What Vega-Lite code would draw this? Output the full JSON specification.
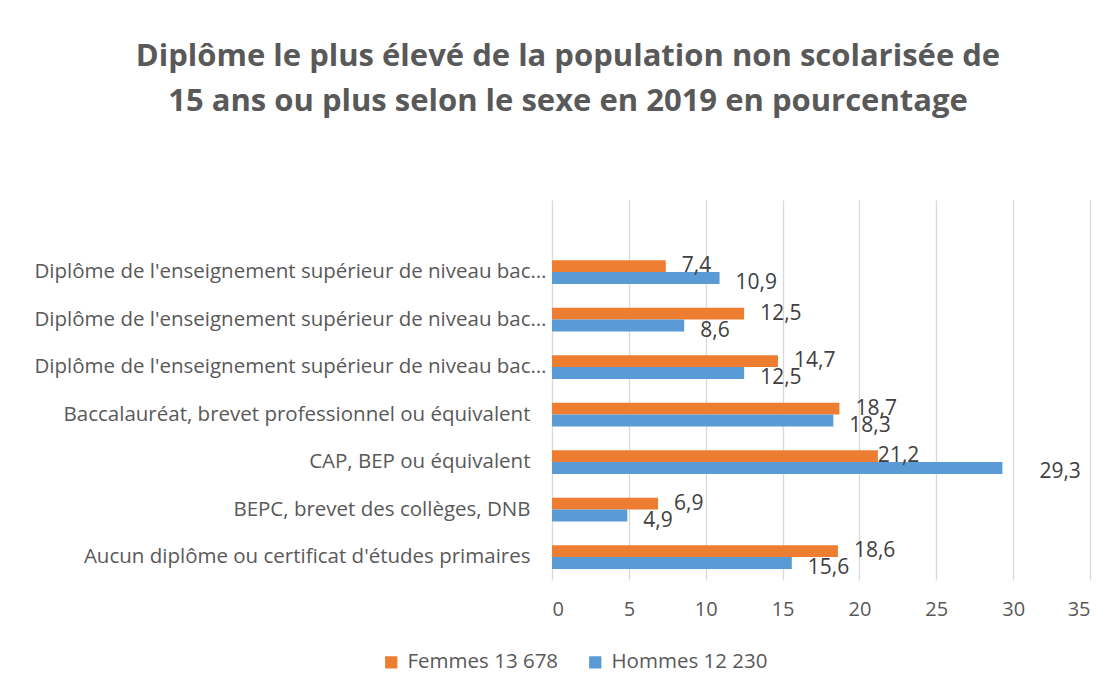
{
  "$schema": "https://vega.github.io/schema/vega-lite/v6.json",
  "autosize": "none",
  "width": 538,
  "height": 380,
  "padding": {"left": 552, "top": 200, "right": 29, "bottom": 115},
  "background": "white",
  "title": {
    "text": ["Diplôme le plus élevé de la population non scolarisée de", "15 ans ou plus selon le sexe en 2019 en pourcentage"],
    "fontSize": 31,
    "fontWeight": "bold",
    "color": "#595959",
    "font": "Open Sans",
    "lineHeight": 45,
    "anchor": "middle",
    "frame": "group",
    "dx": -253,
    "offset": 82
  },
  "config": {
    "view": {"stroke": null},
    "locale": {"number": {"decimal": ",", "thousands": " ", "grouping": [3], "currency": ["", " €"]}},
    "font": "Open Sans"
  },
  "data": {
    "values": [
      {"cat": "Diplôme de l'enseignement supérieur de niveau bac + 5 ou plus", "sexe": "Femmes 13 678", "val": 7.4},
      {"cat": "Diplôme de l'enseignement supérieur de niveau bac + 5 ou plus", "sexe": "Hommes 12 230", "val": 10.9},
      {"cat": "Diplôme de l'enseignement supérieur de niveau bac + 3 ou bac + 4", "sexe": "Femmes 13 678", "val": 12.5},
      {"cat": "Diplôme de l'enseignement supérieur de niveau bac + 3 ou bac + 4", "sexe": "Hommes 12 230", "val": 8.6},
      {"cat": "Diplôme de l'enseignement supérieur de niveau bac + 2", "sexe": "Femmes 13 678", "val": 14.7},
      {"cat": "Diplôme de l'enseignement supérieur de niveau bac + 2", "sexe": "Hommes 12 230", "val": 12.5},
      {"cat": "Baccalauréat, brevet professionnel ou équivalent", "sexe": "Femmes 13 678", "val": 18.7},
      {"cat": "Baccalauréat, brevet professionnel ou équivalent", "sexe": "Hommes 12 230", "val": 18.3},
      {"cat": "CAP, BEP ou équivalent", "sexe": "Femmes 13 678", "val": 21.2},
      {"cat": "CAP, BEP ou équivalent", "sexe": "Hommes 12 230", "val": 29.3},
      {"cat": "BEPC, brevet des collèges, DNB", "sexe": "Femmes 13 678", "val": 6.9},
      {"cat": "BEPC, brevet des collèges, DNB", "sexe": "Hommes 12 230", "val": 4.9},
      {"cat": "Aucun diplôme ou certificat d'études primaires", "sexe": "Femmes 13 678", "val": 18.6},
      {"cat": "Aucun diplôme ou certificat d'études primaires", "sexe": "Hommes 12 230", "val": 15.6}
    ]
  },
  "encoding": {
    "y": {
      "field": "cat",
      "type": "nominal",
      "sort": null,
      "scale": {"paddingInner": 0.5, "paddingOuter": 0.75, "align": 0.845},
      "axis": {
        "title": null,
        "domain": false,
        "ticks": false,
        "labelFontSize": 20.5,
        "labelColor": "#595959",
        "labelPadding": {"expr": "length(datum.label) > 50 ? 6 : 22"},
        "labelLimit": 700,
        "labelExpr": "length(datum.label) > 50 ? truncate(datum.label, 50) : datum.label"
      }
    },
    "yOffset": {"field": "sexe", "type": "nominal", "sort": ["Femmes 13 678", "Hommes 12 230"]},
    "x": {
      "field": "val",
      "type": "quantitative",
      "scale": {"domain": [0, 35], "nice": false},
      "axis": {
        "title": null,
        "values": [0, 5, 10, 15, 20, 25, 30, 35],
        "format": "d",
        "grid": true,
        "gridColor": "#d9d9d9",
        "gridWidth": 1.3,
        "domain": false,
        "ticks": false,
        "labelFontSize": 20,
        "labelColor": "#595959",
        "labelPadding": 19
      }
    }
  },
  "layer": [
    {
      "mark": {"type": "bar"},
      "encoding": {
        "color": {
          "field": "sexe",
          "type": "nominal",
          "scale": {"domain": ["Femmes 13 678", "Hommes 12 230"], "range": ["#ED7D31", "#5B9BD5"]},
          "legend": {
            "title": null,
            "orient": "none",
            "legendX": -171,
            "legendY": 452,
            "direction": "horizontal",
            "symbolType": "square",
            "symbolSize": 150,
            "symbolStrokeWidth": 0,
            "labelFontSize": 20.5,
            "labelColor": "#595959",
            "columnPadding": 26,
            "labelOffset": 6
          }
        }
      }
    },
    {
      "transform": [{"filter": "datum.sexe == 'Femmes 13 678' && datum.val != 21.2"}],
      "mark": {"type": "text", "align": "left", "baseline": "middle", "dx": 16, "dy": 0, "fontSize": 21, "color": "#404040"},
      "encoding": {"text": {"field": "val", "type": "quantitative", "format": ".1f"}}
    },
    {
      "transform": [{"filter": "datum.sexe == 'Femmes 13 678' && datum.val == 21.2"}],
      "mark": {"type": "text", "align": "left", "baseline": "middle", "dx": 0, "dy": 0, "fontSize": 21, "color": "#404040"},
      "encoding": {"text": {"field": "val", "type": "quantitative", "format": ".1f"}}
    },
    {
      "transform": [{"filter": "datum.sexe == 'Hommes 12 230' && datum.val != 29.3"}],
      "mark": {"type": "text", "align": "left", "baseline": "middle", "dx": 16, "dy": 5, "fontSize": 21, "color": "#404040"},
      "encoding": {"text": {"field": "val", "type": "quantitative", "format": ".1f"}}
    },
    {
      "transform": [{"filter": "datum.sexe == 'Hommes 12 230' && datum.val == 29.3"}],
      "mark": {"type": "text", "align": "left", "baseline": "middle", "dx": 37, "dy": 4, "fontSize": 21, "color": "#404040"},
      "encoding": {"text": {"field": "val", "type": "quantitative", "format": ".1f"}}
    }
  ]
}
